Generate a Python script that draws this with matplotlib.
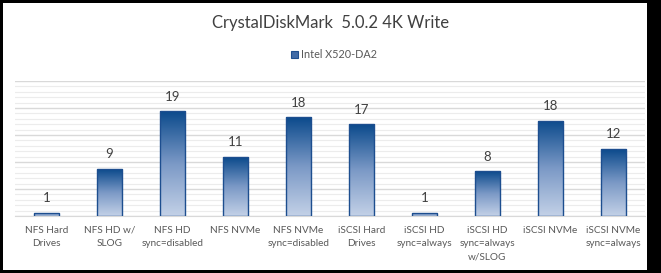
import numpy as np
import matplotlib
matplotlib.use("Agg")
import matplotlib.pyplot as plt
from matplotlib.patches import Rectangle
from matplotlib.colors import LinearSegmentedColormap
from matplotlib.ticker import MultipleLocator

categories = ["NFS Hard\nDrives", "NFS HD w/\nSLOG", "NFS HD\nsync=disabled", "NFS NVMe",
              "NFS NVMe\nsync=disabled", "iSCSI Hard\nDrives", "iSCSI HD\nsync=always",
              "iSCSI HD\nsync=always\nw/SLOG", "iSCSI NVMe", "iSCSI NVMe\nsync=always"]
values = [0.6, 8.7, 19.4, 10.9, 18.3, 17.0, 0.6, 8.3, 17.6, 12.4]
series_name = "Intel X520-DA2"
title = "CrystalDiskMark  5.0.2 4K Write"

plt.rcParams['font.family'] = ['Lato', 'DejaVu Sans']

fig = plt.figure(figsize=(6.61, 2.73), dpi=100, facecolor="black")
# white card with black border
fig.add_artist(Rectangle((3 / 661, 3 / 273), 644 / 661, 267 / 273, transform=fig.transFigure,
                         facecolor="white", edgecolor="none", zorder=-10))

ax = fig.add_axes([15 / 661, 57 / 273, 630 / 661, 135 / 273])
ax.set_facecolor("none")

cmap = LinearSegmentedColormap.from_list("grad", ["#c3d1e7", "#7b99c6", "#0b4a8c"])
grad = np.linspace(0, 1, 256).reshape(-1, 1)

x = np.arange(len(values))
w = 0.41
bars = ax.bar(x, values, width=w, color="none", edgecolor="#1d4e8f", linewidth=1.0, zorder=3)
for b, v in zip(bars, values):
    im = ax.imshow(grad, extent=(b.get_x(), b.get_x() + w, 0, v), origin="lower",
                   cmap=cmap, aspect="auto", zorder=2)
    im.set_clip_path(b)
    ax.text(b.get_x() + w / 2, v + 1.6, f"{v:.0f}", ha="center", va="bottom",
            fontsize=9.5, color="#404040", zorder=4)

ax.set_xlim(-0.5, len(values) - 0.5)
ax.set_ylim(0, 25)
ax.yaxis.set_major_locator(MultipleLocator(5))
ax.yaxis.set_minor_locator(MultipleLocator(1))
ax.grid(True, which="major", axis="y", color="#d9d9d9", linewidth=1.0, zorder=0)
ax.grid(True, which="minor", axis="y", color="#ececec", linewidth=0.8, zorder=0)
ax.set_axisbelow(True)
for s in ["top", "right", "left"]:
    ax.spines[s].set_visible(False)
ax.spines["bottom"].set_color("#d9d9d9")
ax.tick_params(axis="y", which="both", left=False, labelleft=False)
ax.tick_params(axis="x", length=0, pad=7)
ax.set_xticks(x)
ax.set_xticklabels(categories, fontsize=7.2, color="#595959", linespacing=1.6, va="top")

fig.text(0.5, 1 - 23 / 273, title, ha="center", va="center", fontsize=12, color="#404040")
# legend
fig.add_artist(Rectangle((291 / 661, 1 - 58 / 273), 7 / 661, 7 / 273, transform=fig.transFigure,
                         facecolor="#3f6aa6", edgecolor="#1d4e8f", linewidth=0.8))
fig.text(301 / 661, 1 - 54 / 273, series_name, ha="left", va="center", fontsize=7.8, color="#595959")

fig.savefig("out.png", dpi=100, facecolor="black")
